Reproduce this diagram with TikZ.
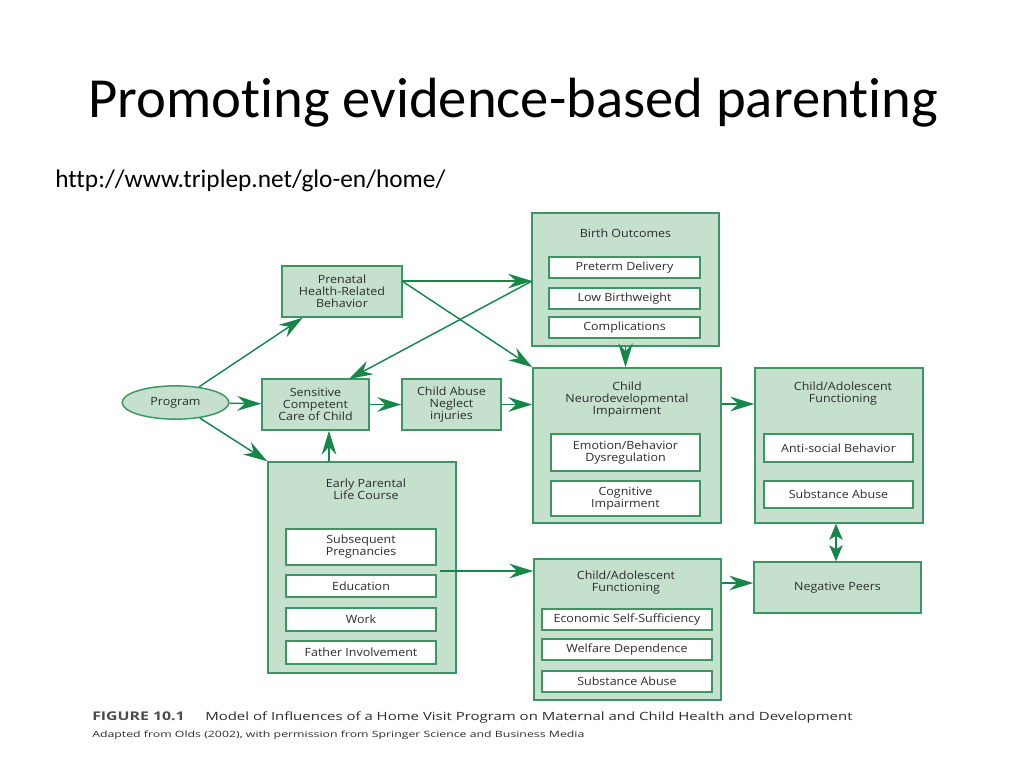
\documentclass[tikz,border=0pt]{standalone}
\usepackage{fontspec}
\setmainfont{Carlito}[Ligatures=NoCommon]
\newfontfamily\dfont{Open Sans}[FakeStretch=1.1]
\newfontfamily\capfont{Open Sans}[FakeStretch=1.32]
\newfontfamily\capfontb{Open Sans}[FakeStretch=1.42]
\usetikzlibrary{arrows.meta,fit,shapes.geometric,calc}
\definecolor{bfill}{RGB}{197,224,204}
\definecolor{bline}{RGB}{60,150,100}
\definecolor{aline}{RGB}{22,135,72}
\definecolor{dtext}{RGB}{45,45,45}
\tikzset{
  box/.style={draw=bline,fill=bfill,line width=1.1pt,inner sep=0pt,rectangle},
  inbox/.style={draw=bline,fill=white,line width=1pt,inner sep=0pt,rectangle},
  ttl/.style={align=center,font=\dfont\fontsize{8.5}{9}\selectfont,text=dtext,inner sep=0pt},
  arr/.style={draw=aline,line width=1.1pt,arrows={-Stealth[length=18pt,width=11pt,inset=6pt]}},
  darr/.style={draw=aline,line width=1.1pt,arrows={Stealth[length=12pt,width=10pt,inset=3pt]-Stealth[length=12pt,width=10pt,inset=3pt]}}
}
\begin{document}
\begin{tikzpicture}[x=0.75pt,y=-0.75pt]
\useasboundingbox[fill=white] (0,0) rectangle (1024,768);
% title
\node[anchor=base west,inner sep=0pt,font=\fontsize{42.5}{46}\selectfont,text=black] (title) at (88,117) {Promoting evidence-based parenting};
\node[anchor=base west,inner sep=0pt,font=\fontsize{19}{21}\selectfont,text=black] (url) at (55,187) {http://www.triplep.net/glo-en/home/};

% boxes
\node[box,fit={(532,213)(719,346)}] (birth) {};
\node[ttl] (birtht) at (625.5,233) {Birth Outcomes};
\node[inbox,fit={(549,257)(700,278)},label={[ttl]center:Preterm Delivery}] (pd) {};
\node[inbox,fit={(549,288)(700,309)},label={[ttl]center:Low Birthweight}] (lb) {};
\node[inbox,fit={(549,317)(700,338)},label={[ttl]center:Complications}] (comp) {};

\node[box,fit={(282,266)(402,317)},label={[ttl]center:Prenatal\\Health-Related\\Behavior}] (pren) {};

\node[ellipse,draw=bline,fill=bfill,line width=1.1pt,minimum width=80pt,minimum height=25pt,inner sep=0pt,font=\dfont\fontsize{8.5}{9}\selectfont,text=dtext] (prog) at (175.5,402.5) {Program};

\node[box,fit={(262,379)(369,430)},label={[ttl]center:Sensitive\\Competent\\Care of Child}] (sens) {};
\node[box,fit={(402,379)(501,430)},label={[ttl]center:Child Abuse\\Neglect\\injuries}] (abuse) {};

\node[box,fit={(533,368)(721,523)}] (neuro) {};
\node[ttl] (neurot) at (627,400) {Child\\Neurodevelopmental\\Impairment};
\node[inbox,fit={(551,434)(700,471)},label={[ttl]center:Emotion/Behavior\\Dysregulation}] (emo) {};
\node[inbox,fit={(551,481)(700,516)},label={[ttl]center:Cognitive\\Impairment}] (cog) {};

\node[box,fit={(755,368)(923,523)}] (car) {};
\node[ttl] (cart) at (843,394) {Child/Adolescent\\Functioning};
\node[inbox,fit={(764,434)(913,462)},label={[ttl]center:Anti-social Behavior}] (anti) {};
\node[inbox,fit={(764,481)(913,508)},label={[ttl]center:Substance Abuse}] (subs1) {};

\node[box,fit={(268,462)(456,673)}] (early) {};
\node[ttl] (earlyt) at (366,489) {Early Parental\\Life Course};
\node[inbox,fit={(286,529)(436,565)},label={[ttl]center:Subsequent\\Pregnancies}] (sp) {};
\node[inbox,fit={(286,575)(436,597)},label={[ttl]center:Education}] (edu) {};
\node[inbox,fit={(286,608)(436,631)},label={[ttl]center:Work}] (work) {};
\node[inbox,fit={(286,641)(436,664)},label={[ttl]center:Father Involvement}] (fi) {};

\node[box,fit={(534,559)(721,700)}] (cab) {};
\node[ttl] (cabt) at (626,583) {Child/Adolescent\\Functioning};
\node[inbox,fit={(542,609)(712,630)},label={[ttl]center:Economic Self-Sufficiency}] (ess) {};
\node[inbox,fit={(542,639)(712,660)},label={[ttl]center:Welfare Dependence}] (wd) {};
\node[inbox,fit={(542,671)(712,692)},label={[ttl]center:Substance Abuse}] (subs2) {};

\node[box,fit={(754,562)(921,613)},label={[ttl]center:Negative Peers}] (neg) {};

% connectors
\coordinate (pe) at (402,281);
\coordinate (be) at (532,281);
\coordinate (sn) at (349,379);
\coordinate (ea) at (440,571);
\draw[arr] (prog) -- (pren);
\draw[arr] (prog) -- (sens);
\draw[arr] (prog) -- (early.north west);
\draw[arr] (pe) -- (be);
\draw[arr] (pe) -- (neuro.north west);
\draw[arr] (be) -- (sn);
\draw[arr] (sens) -- (abuse);
\draw[arr] (abuse.east) -- (neuro.west |- abuse.east);
\draw[arr] (early.north -| 329,0) -- (sens.south -| 329,0);
\draw[arr] (birth.south) -- (birth.south |- neuro.north);
\draw[arr] (neuro.east |- 0,404) -- (car.west |- 0,404);
\draw[arr] (ea) -- (cab.west |- ea);
\draw[arr] (cab.east |- 0,583) -- (neg.west |- 0,583);
\draw[darr] (neg.north -| 836,0) -- (car.south -| 836,0);

% caption
\node[anchor=base west,inner sep=0pt,font=\capfont\bfseries\fontsize{9}{10}\selectfont,text=dtext!85!white] (fig) at (92,720) {FIGURE 10.1};
\node[anchor=base west,inner sep=0pt,font=\capfont\fontsize{8.5}{10}\selectfont,text=dtext] (cap) at (205,720) {Model of Influences of a Home Visit Program on Maternal and Child Health and Development};
\node[anchor=base west,inner sep=0pt,font=\capfontb\fontsize{6.5}{8}\selectfont,text=dtext] (cap2) at (92,737) {Adapted from Olds (2002), with permission from Springer Science and Business Media};
\end{tikzpicture}
\end{document}
